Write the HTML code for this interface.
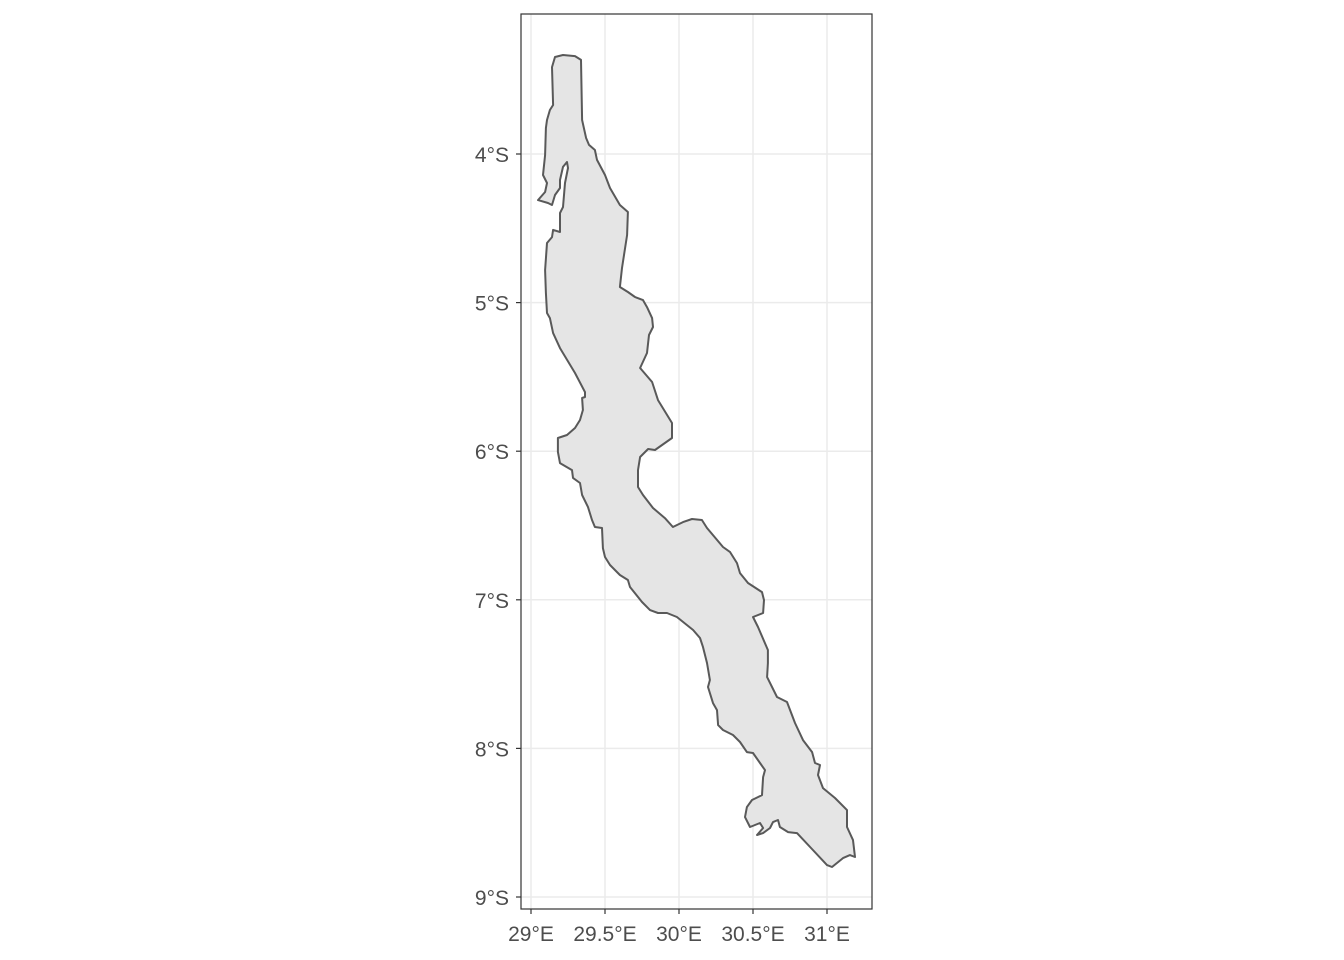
<!DOCTYPE html>
<html><head><meta charset="utf-8"><style>
body{margin:0;background:#fff;}
svg{display:block;font-family:"Liberation Sans",sans-serif;}
</style></head><body>
<svg id="chart" width="1344" height="960"></svg>
<script>
const lonTicks=[29,29.5,30,30.5,31];
const lonLabels=["29°E","29.5°E","30°E","30.5°E","31°E"];
const latTicks=[4,5,6,7,8,9];
const latLabels=["4°S","5°S","6°S","7°S","8°S","9°S"];
const lakeLon=[29.345,29.372,29.392,29.432,29.446,29.500,29.534,29.601,29.655,29.649,29.615,29.601,29.655,29.703,29.757,29.784,29.818,29.824,29.797,29.784,29.737,29.818,29.858,29.953,29.953,29.905,29.838,29.791,29.737,29.723,29.723,29.757,29.824,29.905,29.959,30.027,30.088,30.155,30.189,30.297,30.345,30.392,30.412,30.466,30.561,30.574,30.568,30.500,30.534,30.601,30.601,30.595,30.662,30.730,30.784,30.838,30.899,30.919,30.953,30.939,30.973,31.054,31.135,31.135,31.176,31.189,31.155,31.108,31.034,31.000,30.905,30.797,30.737,30.682,30.669,30.635,30.615,30.568,30.527,30.568,30.547,30.480,30.446,30.459,30.493,30.561,30.568,30.581,30.547,30.500,30.459,30.412,30.365,30.297,30.264,30.257,30.230,30.196,30.209,30.189,30.162,30.142,30.095,29.986,29.919,29.858,29.804,29.750,29.669,29.655,29.601,29.534,29.500,29.486,29.480,29.432,29.412,29.385,29.345,29.331,29.284,29.277,29.196,29.182,29.182,29.243,29.297,29.331,29.351,29.345,29.365,29.365,29.297,29.196,29.149,29.128,29.108,29.101,29.095,29.108,29.142,29.149,29.196,29.196,29.216,29.230,29.250,29.243,29.216,29.196,29.196,29.162,29.142,29.115,29.047,29.095,29.108,29.081,29.095,29.101,29.108,29.128,29.149,29.142,29.162,29.216,29.297,29.338];
const lakeLatS=[3.771,3.892,3.939,3.973,4.040,4.141,4.229,4.343,4.390,4.545,4.767,4.895,4.929,4.962,4.983,5.030,5.104,5.164,5.218,5.339,5.440,5.534,5.656,5.810,5.911,5.945,5.992,5.985,6.039,6.127,6.241,6.295,6.382,6.450,6.510,6.477,6.456,6.463,6.517,6.645,6.679,6.753,6.820,6.887,6.948,7.002,7.089,7.116,7.183,7.338,7.425,7.520,7.654,7.688,7.829,7.944,8.025,8.098,8.112,8.179,8.267,8.334,8.415,8.529,8.617,8.731,8.718,8.738,8.798,8.785,8.684,8.570,8.563,8.529,8.482,8.496,8.536,8.570,8.583,8.536,8.502,8.529,8.462,8.395,8.347,8.314,8.193,8.146,8.098,8.031,8.025,7.957,7.910,7.876,7.843,7.742,7.695,7.587,7.540,7.425,7.318,7.257,7.203,7.116,7.089,7.089,7.069,7.015,6.914,6.867,6.833,6.766,6.712,6.652,6.517,6.510,6.463,6.376,6.295,6.214,6.180,6.127,6.080,6.005,5.911,5.891,5.844,5.790,5.723,5.642,5.635,5.602,5.474,5.306,5.205,5.104,5.070,4.935,4.781,4.599,4.559,4.511,4.525,4.397,4.357,4.195,4.094,4.054,4.087,4.175,4.229,4.276,4.343,4.330,4.310,4.256,4.195,4.141,4.007,3.825,3.771,3.704,3.670,3.415,3.347,3.334,3.341,3.367];

const NS="http://www.w3.org/2000/svg";
const svg=document.getElementById('chart');
const P={l:521,r:872,t:14,b:909};
const lx=lon=>531+(lon-29)*148;
const ly=lat=>154+(lat-4)*148.6;
function mk(tag,attrs,parent){const e=document.createElementNS(NS,tag);for(const k in attrs)e.setAttribute(k,attrs[k]);(parent||svg).appendChild(e);return e;}
const bg=mk('rect',{x:P.l,y:P.t,width:P.r-P.l,height:P.b-P.t,fill:'#fff'});


lonTicks.forEach((v,i)=>{
  const g=mk('line',{x1:lx(v),x2:lx(v),y1:P.t,y2:P.b,stroke:'#ebebeb','stroke-width':1.5});
  
  
  const t=mk('line',{x1:lx(v),x2:lx(v),y1:P.b,y2:P.b+5,stroke:'#333','stroke-width':1.2});
  
  
  const tx=mk('text',{x:lx(v),y:P.b+32,'text-anchor':'middle','font-size':21,fill:'#4d4d4d'});
  tx.textContent=lonLabels[i];
  
  
});
latTicks.forEach((v,i)=>{
  const g=mk('line',{x1:P.l,x2:P.r,y1:ly(v),y2:ly(v),stroke:'#ebebeb','stroke-width':1.5});
  
  
  const t=mk('line',{x1:P.l-5,x2:P.l,y1:ly(v),y2:ly(v),stroke:'#333','stroke-width':1.2});
  
  
  const tx=mk('text',{x:P.l-12,y:ly(v)+8,'text-anchor':'end','font-size':21,fill:'#4d4d4d'});
  tx.textContent=latLabels[i];
  
  
});
let d='';
lakeLon.forEach((lo,i)=>{d+=(i?'L':'M')+lx(lo).toFixed(1)+','+ly(lakeLatS[i]).toFixed(1);});
d+='Z';
const lake=mk('path',{d:d,fill:'#e5e5e5',stroke:'#595959','stroke-width':2,'stroke-linejoin':'round'});


const border=mk('rect',{x:P.l,y:P.t,width:P.r-P.l,height:P.b-P.t,fill:'none',stroke:'#333','stroke-width':1.2});


</script>
</body></html>
